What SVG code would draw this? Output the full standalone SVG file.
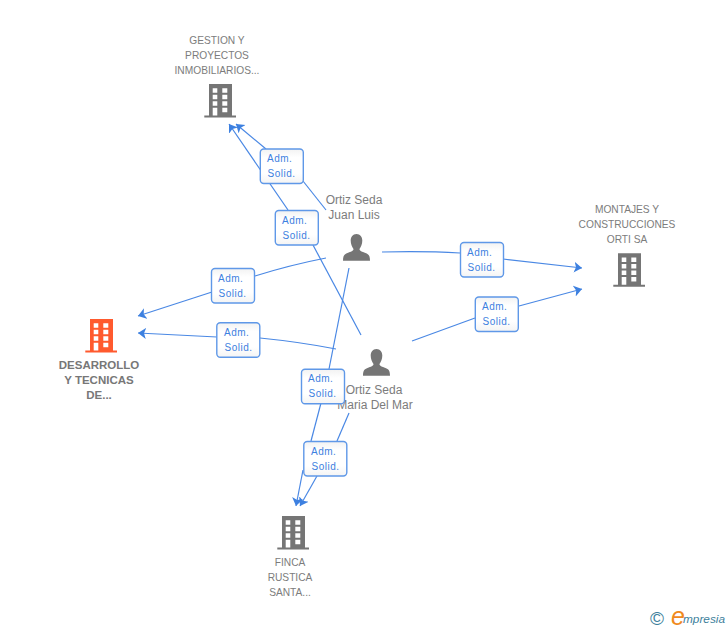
<svg xmlns="http://www.w3.org/2000/svg" width="728" height="630" viewBox="0 0 728 630">
<style>
text{font-family:"Liberation Sans",Arial,sans-serif}
.n{font-size:10.200px;fill:#7c7c7c;text-anchor:middle}
.p{font-size:12px;fill:#7c7c7c;text-anchor:middle}
.b{font-size:11.500px;font-weight:bold;fill:#777;text-anchor:middle}
.l{font-size:10px;fill:#3d80e0;letter-spacing:.5px}
.c{fill:none;stroke:#4a88e4;stroke-width:1.2}
.box{fill:url(#g);stroke:#5f98e8;stroke-width:1.4}
.gray{fill:#757575}.org{fill:#ff5a2e}.person{fill:#757575}
</style>
<defs>
<linearGradient id="g" x1="0" y1="0" x2="0" y2="1"><stop offset="0" stop-color="#f2f2f2"/><stop offset=".25" stop-color="#fff"/><stop offset=".7" stop-color="#fff"/><stop offset="1" stop-color="#f4f4f4"/></linearGradient>
<marker id="a" markerUnits="userSpaceOnUse" markerWidth="12" markerHeight="14" refX="8" refY="6" orient="auto"><path d="M0 0.500L8 6L0 11.500L2 6Z" fill="#3d80e0"/></marker>
<path id="bd" d="M4.700 0H27.700V31.500H31.700V33.500H0V31.500H4.700ZM8.400 4.300V8.700H13V4.300ZM18 4.300V8.700H23V4.300ZM8.400 10.700V15.300H13V10.700ZM18 10.700V15.300H23V10.700ZM8.400 17.300V21.700H13V17.300ZM18 17.300V21.700H23V17.300ZM8.400 23.700V31.500H13V23.700ZM18 23.700V28.300H23V23.700Z" fill-rule="evenodd"/>
<path id="pr" d="M13.500 0C9.700 0 7.700 3 7.700 6.500C7.700 10 9 13 10.500 15C10.500 17 8 17.700 4.500 19C1.500 20.100 0 21.500 0 26.700H27C27 21.500 25.500 20.100 22.500 19C19 17.700 16.500 17 16.500 15C18 13 19.300 10 19.300 6.500C19.300 3 17.300 0 13.500 0Z"/>
</defs>
<rect width="728" height="630" fill="#fff"/>
<g id="connectors">
<path class="c" d="M326 210L303 181"/><path class="c" marker-end="url(#a)" d="M266 149L236 124"/>
<path class="c" d="M361 335L313 245"/><path class="c" marker-end="url(#a)" d="M288 210L229 124"/>
<path class="c" d="M326 258Q290 265 255 276"/><path class="c" marker-end="url(#a)" d="M212 292L138 316"/>
<path class="c" d="M336 349Q300 342 260 338"/><path class="c" marker-end="url(#a)" d="M217 337L138 333"/>
<path class="c" d="M349 268L329 369"/><path class="c" d="M321 403L311 441"/><path class="c" marker-end="url(#a)" d="M303 470L296 506"/>
<path class="c" d="M349 413L337 441"/><path class="c" marker-end="url(#a)" d="M317 476L300 506"/>
<path class="c" d="M382 252Q425 251 460 253"/><path class="c" marker-end="url(#a)" d="M503 259L582 268"/>
<path class="c" d="M412 341Q445 329 475 318"/><path class="c" marker-end="url(#a)" d="M519 306L582 289"/>
</g>
<g id="n-gestion"><text class="n" x="217" y="44">GESTION Y</text><text class="n" x="217" y="59">PROYECTOS</text><text class="n" x="217" y="74">INMOBILIARIOS...</text><use href="#bd" class="gray" x="204.300" y="84"/></g>
<g id="n-montajes"><text class="n" x="627" y="213">MONTAJES Y</text><text class="n" x="627" y="228">CONSTRUCCIONES</text><text class="n" x="627" y="243">ORTI SA</text><use href="#bd" class="gray" x="613.300" y="253.300"/></g>
<g id="n-desarrollo"><use href="#bd" class="org" x="85.300" y="319"/><text class="b" x="99" y="369">DESARROLLO</text><text class="b" x="99" y="384">Y TECNICAS</text><text class="b" x="99" y="399">DE...</text></g>
<g id="n-finca"><use href="#bd" class="gray" x="277.300" y="516"/><text class="n" x="290" y="566">FINCA</text><text class="n" x="290" y="581">RUSTICA</text><text class="n" x="290" y="596">SANTA...</text></g>
<g id="n-juan"><text class="p" x="354" y="204">Ortiz Seda</text><text class="p" x="354" y="219">Juan Luis</text><use href="#pr" class="person" x="343" y="234"/></g>
<g id="n-maria"><use href="#pr" class="person" x="363" y="349"/><text class="p" x="374" y="394">Ortiz Seda</text><text class="p" x="375" y="409">Maria Del Mar</text></g>
<g id="l1"><rect class="box" x="260.300" y="149" width="43" height="34.500" rx="3.500"/><text class="l" x="267" y="162">Adm.</text><text class="l" x="267.500" y="177">Solid.</text></g>
<g id="l2"><rect class="box" x="275.300" y="210.500" width="43" height="34.500" rx="3.500"/><text class="l" x="282" y="224">Adm.</text><text class="l" x="282.500" y="239">Solid.</text></g>
<g id="l3"><rect class="box" x="211.500" y="268.500" width="43" height="34.500" rx="3.500"/><text class="l" x="218" y="282">Adm.</text><text class="l" x="218.500" y="297">Solid.</text></g>
<g id="l4"><rect class="box" x="216.800" y="322.800" width="43" height="34.500" rx="3.500"/><text class="l" x="224" y="336">Adm.</text><text class="l" x="224.500" y="351">Solid.</text></g>
<g id="l5"><rect class="box" x="301.500" y="369.300" width="43" height="34.500" rx="3.500"/><text class="l" x="308" y="382">Adm.</text><text class="l" x="308.500" y="397">Solid.</text></g>
<g id="l6"><rect class="box" x="303.800" y="441.500" width="43" height="34.500" rx="3.500"/><text class="l" x="311" y="455">Adm.</text><text class="l" x="311.500" y="470">Solid.</text></g>
<g id="l7"><rect class="box" x="460.500" y="242.500" width="43" height="34.500" rx="3.500"/><text class="l" x="467" y="256">Adm.</text><text class="l" x="467.500" y="271">Solid.</text></g>
<g id="l8"><rect class="box" x="475.300" y="297" width="43" height="34.500" rx="3.500"/><text class="l" x="482" y="310">Adm.</text><text class="l" x="482.500" y="325">Solid.</text></g>
<g id="logo"><text x="650" y="625" font-size="19" fill="#3d7f9c">©</text><text x="671" y="625" font-size="25" font-style="italic" fill="#f08a1d">e</text><text x="683" y="623" font-size="11.800" font-style="italic" fill="#3d7f9c">mpresia</text></g>
</svg>
